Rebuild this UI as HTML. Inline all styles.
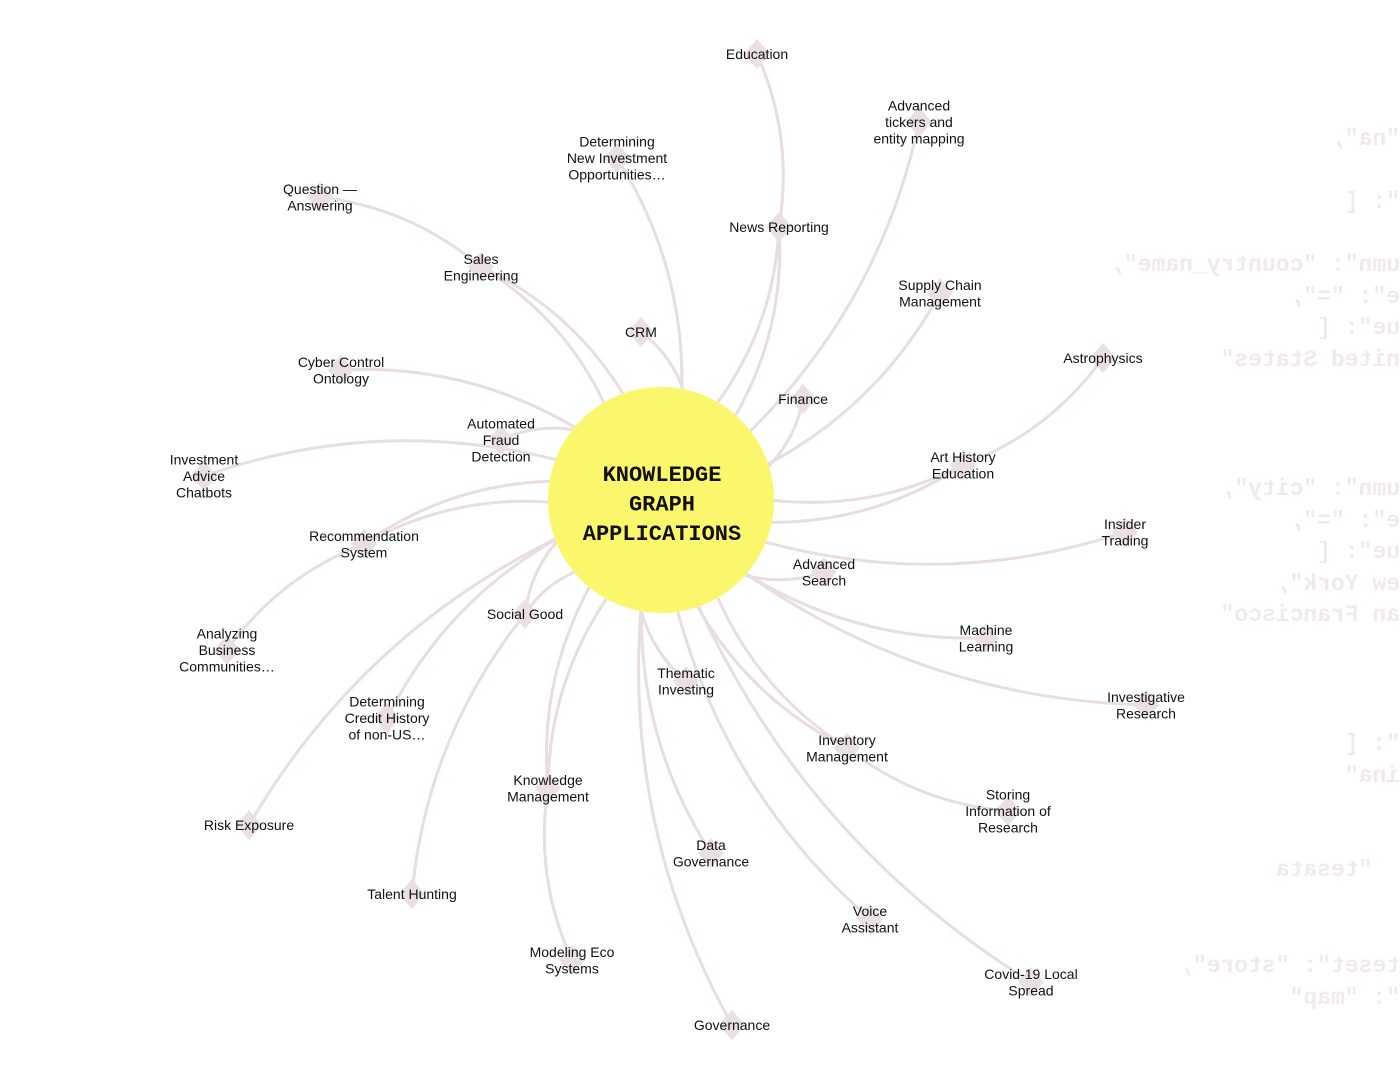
<!DOCTYPE html>
<html><head><meta charset="utf-8">
<style>
html,body{margin:0;padding:0;background:#fff;}
#wrap{position:relative;width:1400px;height:1073px;overflow:hidden;background:#fff;font-family:"Liberation Sans",sans-serif;}
svg{position:absolute;left:0;top:0;}
.code{position:absolute;left:1100px;width:300px;font-family:"Liberation Mono",monospace;font-weight:bold;font-size:23px;line-height:31.5px;color:#f1e9ed;white-space:pre;text-align:left;transform:scaleX(-1);}
</style></head>
<body>
<div id="wrap">
<div class="code" style="top:124px">"na",

": [

umn": "country_name",
e": "=",
ue": [
nited States"</div>
<div class="code" style="top:474px">umn": "city",
e": "=",
ue": [
ew York",
an Francisco"</div>
<div class="code" style="top:729px">": [
ina"</div>
<div class="code" style="top:855px">  "tesata</div>
<div class="code" style="top:951px">teset": "store",
": "map"</div>
<svg id="chart" width="1400" height="1073"></svg>
</div>
<script>
const labels = ["Education","Advanced\ntickers and\nentity mapping","Determining\nNew Investment\nOpportunities…","Question —\nAnswering","Sales\nEngineering","News Reporting","CRM","Supply Chain\nManagement","Astrophysics","Cyber Control\nOntology","Finance","Automated\nFraud\nDetection","Art History\nEducation","Investment\nAdvice\nChatbots","Recommendation\nSystem","Insider\nTrading","Advanced\nSearch","Social Good","Analyzing\nBusiness\nCommunities…","Machine\nLearning","Thematic\nInvesting","Determining\nCredit History\nof non-US…","Investigative\nResearch","Inventory\nManagement","Knowledge\nManagement","Storing\nInformation of\nResearch","Risk Exposure","Data\nGovernance","Talent Hunting","Voice\nAssistant","Covid-19 Local\nSpread","Modeling Eco\nSystems","Governance"];
const nodeX = [757,919,617,320,481,779,641,940,1103,341,803,501,963,204,364,1125,824,525,227,986,686,387,1146,847,548,1008,249,711,412,870,1031,572,732];
const nodeY = [54,122,158,197,267,227,332,293,358,370,399,440,465,476,544,532,572,614,650,638,681,718,705,748,788,811,825,853,894,919,982,960,1025];
const parents = [5,-1,-1,4,-1,-1,-1,-1,12,-1,-1,-1,-1,-1,-1,-1,-1,-1,14,-1,-1,-1,-1,-1,-1,23,-1,-1,17,-1,-1,24,-1];
const cx=661, cy=500, R=113;
const svg=document.getElementById('chart');
const NS='http://www.w3.org/2000/svg';
function mk(t,a){const e=document.createElementNS(NS,t);for(const k in a)e.setAttribute(k,a[k]);return e;}
const gE=mk('g',{});svg.appendChild(gE);
function curve(x1,y1,x2,y2){const dx=x2-x1,dy=y2-y1;const k=0.15;const mx=(x1+x2)/2-dy*k,my=(y1+y2)/2+dx*k;return `M${x1},${y1} Q${mx},${my} ${x2},${y2}`;}
function startOf(i){const a=Math.atan2(nodeY[i]-cy,nodeX[i]-cx)+18*Math.PI/180;return [cx+R*Math.cos(a),cy+R*Math.sin(a)];}
labels.forEach((l,i)=>{
  let s;
  if(parents[i]<0){s=startOf(i);}else{s=[nodeX[parents[i]],nodeY[parents[i]]];
    const p=parents[i];const s0=startOf(i);
    const e0=mk('path',{d:curve(s0[0],s0[1],nodeX[p],nodeY[p]),fill:'none',stroke:'#e7dde3','stroke-width':3});
    
    
    gE.appendChild(e0);}
  const e=mk('path',{d:curve(s[0],s[1],nodeX[i],nodeY[i]),fill:'none',stroke:'#e7dde3','stroke-width':3});
  
  
  gE.appendChild(e);
});
const c=mk('circle',{cx:cx,cy:cy,r:R,fill:'#fbf76c'});


svg.appendChild(c);
["KNOWLEDGE","GRAPH","APPLICATIONS"].forEach((t,j)=>{
  const tx=mk('text',{x:cx+1,y:481+j*29.5,'text-anchor':'middle','font-family':'Liberation Mono, monospace','font-weight':'bold','font-size':'22','letter-spacing':'0',fill:'#111'});
  tx.textContent=t;
  
  
  svg.appendChild(tx);
});
labels.forEach((l,i)=>{
  const x=nodeX[i],y=nodeY[i];
  const g=mk('g',{});
  
  
  g.appendChild(mk('polygon',{points:`${x},${y-15} ${x+13},${y} ${x},${y+15} ${x-13},${y}`,fill:'#ebdfe6'}));
  const lines=l.split('\n');const lh=16.5;const y0=y-(lines.length-1)*lh/2+5;
  lines.forEach((ln,j)=>{const t=mk('text',{x:x,y:y0+j*lh,'text-anchor':'middle','font-size':'14','font-family':'Liberation Sans, sans-serif',fill:'#111'});t.textContent=ln;g.appendChild(t);});
  svg.appendChild(g);
});
</script>
</body></html>
